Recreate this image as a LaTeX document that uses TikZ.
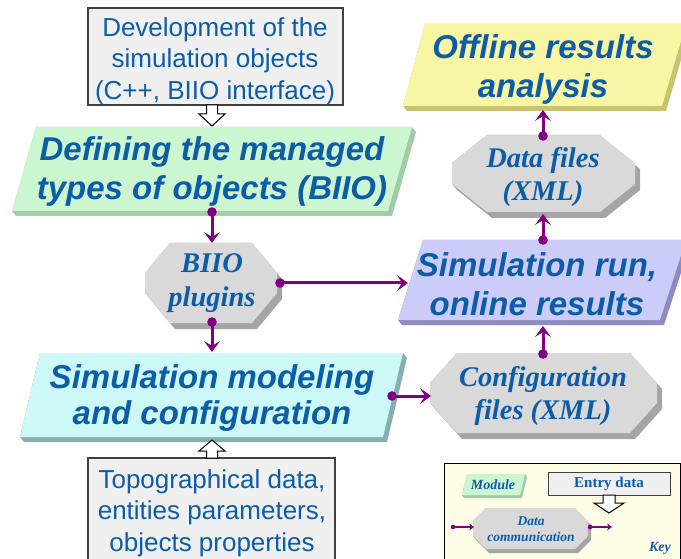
\documentclass[tikz,border=0pt]{standalone}
\usepackage{fontspec}
\setmainfont{Liberation Sans}
\newfontfamily\tms{Liberation Serif}
\usetikzlibrary{arrows.meta,calc}
\definecolor{txtblue}{RGB}{12,92,168}
\definecolor{connC}{RGB}{128,0,128}
\definecolor{greenF}{RGB}{204,246,208}
\definecolor{greenS}{RGB}{160,205,165}
\definecolor{cyanF}{RGB}{204,248,248}
\definecolor{cyanS}{RGB}{135,175,175}
\definecolor{lavF}{RGB}{204,204,248}
\definecolor{lavS}{RGB}{140,140,195}
\definecolor{yelF}{RGB}{248,245,165}
\definecolor{yelS}{RGB}{200,195,110}
\definecolor{octF}{RGB}{217,217,217}
\definecolor{octS}{RGB}{165,165,165}
\definecolor{boxF}{RGB}{240,240,240}
\definecolor{keyF}{RGB}{255,253,230}
% parallelogram slab: face, shadow, TLx, TRx, ytop, BRx, BLx, ybot, (offset 4,5)
\newcommand\slabpar[8]{%
  \fill[#2] (#3,#5) -- (#4,#5) -- ({#4+4},{#5+5}) -- ({#6+4},{#8+5}) -- ({#7+4},{#8+5}) -- (#7,#8) -- cycle;
  \fill[#1] (#3,#5) -- (#4,#5) -- (#6,#8) -- (#7,#8) -- cycle;}
% octagon slab: x1,y1,x2,y2,cx,cy,dx,dy
\newcommand\slaboct[8]{%
  \fill[octS] ({#1+#5},#2) -- ({#3-#5},#2) -- ({#3-#5+#7},{#2+#8}) -- ({#3+#7},{#2+#6+#8}) -- ({#3+#7},{#4-#6+#8}) -- ({#3-#5+#7},{#4+#8}) -- ({#1+#5+#7},{#4+#8}) -- ({#1+#7},{#4-#6+#8}) -- (#1,{#4-#6}) -- (#1,{#2+#6}) -- cycle;
  \fill[octF] ({#1+#5},#2) -- ({#3-#5},#2) -- (#3,{#2+#6}) -- (#3,{#4-#6}) -- ({#3-#5},#4) -- ({#1+#5},#4) -- (#1,{#4-#6}) -- (#1,{#2+#6}) -- cycle;}
\begin{document}
\begin{tikzpicture}[x=1pt,y=-1pt,
  bigtxt/.style={inner sep=0pt,align=center,text=txtblue,font=\fontsize{33}{39}\selectfont\bfseries\itshape},
  sanstxt/.style={inner sep=0pt,align=center,text=txtblue,font=\fontsize{26}{31.5}\selectfont},
  octtxt/.style={inner sep=0pt,align=center,text=txtblue,font=\tms\fontsize{28.5}{33.5}\selectfont\bfseries\itshape},
  conn/.style={draw=connC,line width=3pt,-{Stealth[length=11pt,width=16pt,inset=5pt]}},
  connthin/.style={draw=connC,line width=1.2pt,-{Stealth[length=5pt,width=7pt,inset=2pt]}},
  hollow/.style={draw=black,fill=white,line width=1pt,line join=miter},
  plainbox/.style={draw=black!75,fill=boxF,line width=1.2pt}]
\useasboundingbox (0,0) rectangle (681,559);
\fill[white] (0,0) rectangle (681,559);
\clip (0,0) rectangle (681,559);

% ---- entry boxes ----
\draw[plainbox] (88,8) rectangle (343,105);
\node[sanstxt] (dev) at (215,61) {Development of the\\simulation objects\\(C++, BIIO interface)};
\draw[plainbox] (88,458) rectangle (335,575);
\node[sanstxt] (topo) at (212,513) {Topographical data,\\entities parameters,\\objects properties};

% ---- modules ----
\slabpar{greenF}{greenS}{36}{412}{127}{388}{12}{211}
\node[bigtxt] (def) at (212,171) {Defining the managed\\types of objects (BIIO)};
\slabpar{cyanF}{cyanS}{40}{403}{353}{383}{20}{437}
\node[bigtxt,font=\fontsize{33}{36}\selectfont\bfseries\itshape] (model) at (212,398) {Simulation modeling\\and configuration};
\slabpar{lavF}{lavS}{423}{686}{240}{660}{398}{320}
\node[bigtxt] (run) at (537,284) {Simulation run,\\online results};
\slabpar{yelF}{yelS}{425}{686}{24}{662}{403}{106}
\node[bigtxt] (off) at (543,69) {Offline results\\analysis};

% ---- data octagons ----
\slaboct{145}{243}{277}{323}{25}{30}{5}{6}
\node[octtxt] (plug) at (212,283) {BIIO\\plugins};
\slaboct{452}{135}{635}{212}{35}{28}{5}{6}
\node[octtxt] (dataf) at (543,177) {Data files\\(XML)};
\slaboct{430}{353}{657}{433}{27}{30}{5}{6}
\node[octtxt] (conf) at (543,396) {Configuration\\files (XML)};

% ---- hollow entry arrows ----
\coordinate (devS) at (212,105);
\coordinate (defN) at (212,126);
\draw[hollow] ($(devS)+(-5.5,0)$) -- ($(devS)+(5.5,0)$) -- ($(devS)+(5.5,9)$) -- ($(devS)+(13,9)$) -- (defN) -- ($(devS)+(-13,9)$) -- ($(devS)+(-5.5,9)$) -- cycle;
\coordinate (topoN) at (212,458);
\coordinate (modelS) at (212,440);
\draw[hollow] ($(topoN)+(-5.5,0)$) -- ($(topoN)+(5.5,0)$) -- ($(topoN)+(5.5,-7)$) -- ($(topoN)+(13,-7)$) -- (modelS) -- ($(topoN)+(-13,-7)$) -- ($(topoN)+(-5.5,-7)$) -- cycle;

% ---- data connectors ----
\coordinate (defS) at (212,212);   \coordinate (plugN) at (212,243);
\coordinate (plugS) at (212,322);  \coordinate (modelN) at (212,352);
\coordinate (plugE) at (280,283);  \coordinate (runW) at (408,283);
\coordinate (modelE) at (392,396); \coordinate (confW) at (431,396);
\coordinate (confN) at (543,354);  \coordinate (runS) at (543,326);
\coordinate (runN) at (543,240);   \coordinate (datafS) at (543,214);
\coordinate (datafN) at (543,136); \coordinate (offS) at (543,110);
\foreach \a/\b in {defS/plugN,plugS/modelN,plugE/runW,modelE/confW,confN/runS,runN/datafS,datafN/offS}{
  \draw[conn] (\a) -- (\b);
  \fill[connC] (\a) circle[radius=4.8pt];
}

% ---- key ----
\draw[draw=black,fill=keyF,line width=1pt] (444,463) rectangle (680,575);
\fill[greenS] (467,474) -- (525,474) -- (527,477) -- (522,498) -- (464,498) -- (462,495) -- cycle;
\fill[greenF] (467,474) -- (525,474) -- (520,495) -- (462,495) -- cycle;
\node[inner sep=0pt,text=txtblue,font=\tms\fontsize{14}{16}\selectfont\bfseries\itshape] (kmod) at (493,485) {Module};
\draw[plainbox,line width=1pt] (548,472) rectangle (670,495);
\node[inner sep=0pt,text=txtblue,font=\tms\fontsize{15}{17}\selectfont\bfseries] (kentry) at (609,484) {Entry data};
\coordinate (kentS) at (609,495);
\coordinate (kcomN) at (609,513);
\draw[hollow] ($(kentS)+(-6,0)$) -- ($(kentS)+(6,0)$) -- ($(kentS)+(6,8)$) -- ($(kentS)+(15,8)$) -- (kcomN) -- ($(kentS)+(-15,8)$) -- ($(kentS)+(-6,8)$) -- cycle;
\slaboct{473}{508}{588}{549}{13}{13}{3}{4}
\node[inner sep=0pt,align=center,text=txtblue,font=\tms\fontsize{13.5}{16}\selectfont\bfseries\itshape] (kcom) at (531,529) {Data\\communication};
\coordinate (kinA) at (453,527); \coordinate (kinB) at (474,527);
\coordinate (koutA) at (590,527); \coordinate (koutB) at (612,527);
\draw[connthin] (kinA) -- (kinB); \fill[connC] (kinA) circle[radius=2.3pt];
\draw[connthin] (koutA) -- (koutB); \fill[connC] (koutA) circle[radius=2.3pt];
\node[inner sep=0pt,text=txtblue,font=\tms\fontsize{14}{16}\selectfont\bfseries\itshape] (kkey) at (660,548) {Key};
\end{tikzpicture}
\end{document}
